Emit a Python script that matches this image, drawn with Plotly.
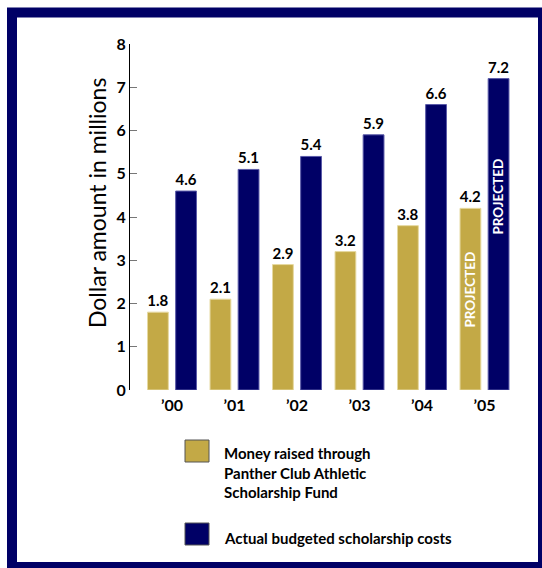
import plotly.graph_objects as go

years = ["’00", "’01", "’02", "’03", "’04", "’05"]
money_raised = [1.8, 2.1, 2.9, 3.2, 3.8, 4.2]
budgeted_costs = [4.6, 5.1, 5.4, 5.9, 6.6, 7.2]
y_ticks = [0, 1, 2, 3, 4, 5, 6, 7, 8]
legend_names = ["Money raised through<br>Panther Club Athletic<br>Scholarship Fund",
                "Actual budgeted scholarship costs"]
projected_label = "PROJECTED"
projected_y = [2.31, 4.46]   # label centres within the '05 bars

GOLD = "#C3A946"
NAVY = "#000066"
FONT = "Lato"

W, H = 542, 568
L, R, T, B = 130, 20, 44, 178
PW, PH = W - L - R, H - T - B


def px(x):
    # page x -> paper x
    return (x - L) / PW


def py(y):
    # page y -> paper y
    return (H - B - y) / PH


fig = go.Figure()
fig.add_trace(go.Bar(
    x=years, y=money_raised, name="money",
    marker=dict(color=GOLD, line=dict(color="#E6D9A0", width=1)),
    texttemplate="%{y:.1f}", textposition="outside", constraintext="none",
    textfont=dict(family=FONT, size=15, color="black", weight="bold"),
    cliponaxis=False, hoverinfo="skip",
))
fig.add_trace(go.Bar(
    x=years, y=budgeted_costs, name="costs",
    marker=dict(color=NAVY, line=dict(color="#5A5AA8", width=1)),
    texttemplate="%{y:.1f}", textposition="outside", constraintext="none",
    textfont=dict(family=FONT, size=15, color="black", weight="bold"),
    cliponaxis=False, hoverinfo="skip",
))

# PROJECTED labels inside '05 bars
fig.add_annotation(x=years[-1], y=projected_y[0], text=projected_label, showarrow=False,
                   textangle=-90, xshift=-14,
                   font=dict(family=FONT, size=13.5, color="white", weight="bold"))
fig.add_annotation(x=years[-1], y=projected_y[1], text=projected_label, showarrow=False,
                   textangle=-90, xshift=14,
                   font=dict(family=FONT, size=13.5, color="white", weight="bold"))

# y-axis title
fig.add_annotation(xref="paper", yref="paper", x=px(97), y=py(203),
                   xanchor="center", yanchor="middle",
                   text="Dollar amount in millions", showarrow=False, textangle=-90,
                   font=dict(family=FONT, size=23, color="black"))

# legend (drawn manually)
fig.add_shape(type="rect", xref="paper", yref="paper",
              x0=px(185), x1=px(209), y0=py(462), y1=py(440),
              fillcolor=GOLD, line=dict(color="#555555", width=1))
fig.add_shape(type="rect", xref="paper", yref="paper",
              x0=px(185), x1=px(209), y0=py(545), y1=py(523),
              fillcolor=NAVY, line=dict(color="#555555", width=1))
fig.add_annotation(xref="paper", yref="paper", x=px(222), y=py(472),
                   xanchor="left", yanchor="middle", align="left",
                   text=legend_names[0], showarrow=False,
                   font=dict(family=FONT, size=15, color="black", weight="bold"))
fig.add_annotation(xref="paper", yref="paper", x=px(222), y=py(538),
                   xanchor="left", yanchor="middle", align="left",
                   text=legend_names[1], showarrow=False,
                   font=dict(family=FONT, size=15, color="black", weight="bold"))

# frame
fig.add_shape(type="rect", xref="paper", yref="paper",
              x0=px(12), x1=px(543), y0=py(567), y1=py(12.5),
              line=dict(color=NAVY, width=10), fillcolor="rgba(0,0,0,0)", layer="above")

fig.update_layout(
    width=W, height=H,
    margin=dict(l=L, r=R, t=T, b=B),
    paper_bgcolor="white", plot_bgcolor="white",
    showlegend=False,
    barmode="group", bargap=0.10, bargroupgap=0.26,
    font=dict(family=FONT, color="black"),
    hovermode=False,
)
fig.update_xaxes(
    range=[-0.672, 5.6], showline=False, showgrid=False, zeroline=False, ticks="",
    ticklabelstandoff=4,
    tickfont=dict(family=FONT, size=16, color="black", weight="bold"),
)
fig.update_yaxes(
    range=[0, 8], tickvals=y_ticks, showline=True, linecolor="black", linewidth=1,
    ticks="inside", ticklen=7, tickcolor="#777777", tickwidth=1,
    showgrid=False, zeroline=False,
    tickfont=dict(family=FONT, size=16, color="black", weight="bold"),
)

fig.write_html(
    "out.html",
    config={"displayModeBar": False, "staticPlot": True},
    post_script="document.body.style.margin='0';document.body.style.overflow='hidden';",
)
